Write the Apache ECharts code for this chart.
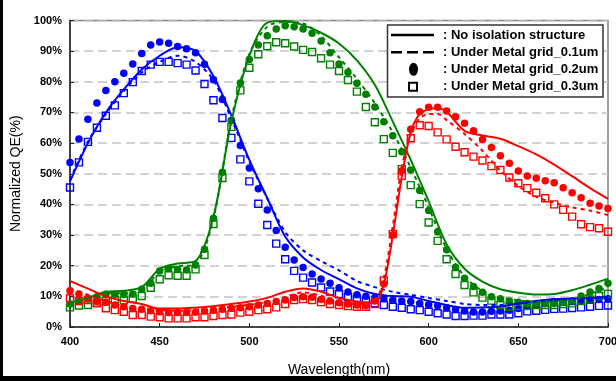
<!DOCTYPE html>
<html><head><meta charset="utf-8">
<script src="https://cdn.jsdelivr.net/npm/echarts/dist/echarts.min.js"></script>
<style>
html,body{margin:0;padding:0;background:#fff;overflow:hidden}
#c{position:absolute;left:0;top:0;width:616px;height:381px}
.f{position:absolute;background:#000;z-index:10;pointer-events:none}
</style></head>
<body>
<div id="c"></div>
<div class="f" style="left:0;top:0;width:3px;height:381px"></div>
<div class="f" style="left:0;top:376px;width:616px;height:5px"></div>
<script>
// wavelengths (nm)
const wl5 = [400,405,410,415,420,425,430,435,440,445,450,455,460,465,470,475,480,485,490,495,500,505,510,515,520,525,530,535,540,545,550,555,560,565,570,575,580,585,590,595,600,605,610,615,620,625,630,635,640,645,650,655,660,665,670,675,680,685,690,695,700];
const wl10 = [400,410,420,430,440,450,460,470,480,490,500,510,520,530,540,550,560,570,580,590,600,610,620,630,640,650,660,670,680,690,700];
const wlRed = [400,410,420,430,440,450,460,470,480,490,500,510,520,530,540,550,560,570,575,580,585,590,595,600,605,610,620,630,640,650,660,670,680,690,700];

// Blue
const blueSolid = [47.5,60,70,77.5,84,88.5,91.3,90,81.8,69,54.5,42,29.5,22.7,18.6,15.6,12.6,10.8,10.1,9.9,8.5,7.2,6.3,6.4,6.7,7.7,8.5,9.1,9.3,9.5,9.8];
const blueDash = [48,60.5,69.5,77,83,86.5,88.5,86.5,80.5,68,54,42,31,25,21.5,18.5,15,13,11.5,10.5,9.5,8.5,7.5,7.2,7.2,7.7,8.3,8.7,9,9.2,9.5];
const blueDot = [53.7,61.3,67.8,73.1,77.2,80.0,82.8,85.8,89.2,92.0,93.0,92.6,91.5,90.8,89.5,85.7,80.7,74.2,67.4,59.2,51.9,45.1,38.2,31.5,26.0,21.9,19.4,17.3,15.7,14.3,12.8,11.4,10.5,10.0,9.6,9.2,8.7,8.5,8.3,7.7,7.3,6.9,6.3,5.7,5.2,4.9,4.9,5.1,5.2,5.5,6.0,6.7,7.2,7.7,8.0,8.3,8.5,8.8,8.9,9.0,9.2];
const blueSq = [45.5,53.7,60.4,65.0,68.9,72.3,76.3,79.9,83.5,85.6,86.5,86.5,86.1,85.6,83.7,79.3,74.0,68.2,61.7,54.7,47.5,40.2,33.3,27.2,22.1,18.3,16.1,14.5,12.9,11.6,10.7,9.8,9.2,8.6,7.8,7.2,6.6,6.3,5.8,5.5,5.0,4.5,4.1,3.6,3.6,3.7,3.7,4.1,4.1,4.1,4.5,5.1,5.3,5.6,5.9,6.0,6.2,6.4,6.6,6.9,7.0];

// Green
const greenSolid = [8.0,9.5,11.5,11.8,13,19,20.7,21.5,36,67,88.5,99.3,99.8,98.5,96,92.5,87,79,67,54.5,41,27,19,14.8,12.3,11.2,10.6,10.8,12,13.8,15.8];
const greenDash = [7.5,9.5,11,11,12,18,19.8,20.5,35.5,68,89,98,99.5,99,95,88,81,73,63.5,52,39,25.5,16.5,11.8,9.7,8.7,8.2,8.2,8.8,10.8,13];
const greenDot = [7.5,8.3,9.1,9.9,10.7,10.7,10.6,10.7,12.3,14.3,18.3,19.1,18.8,18.6,20.2,25.4,35.5,50.5,67.4,79.6,87.3,92.0,95.0,97.2,98.3,98.0,97.2,95.8,93.3,89.5,85.8,83.1,79.5,75.9,71.8,67.0,62.4,57.2,51.2,44.5,38.0,31.1,25.2,19.5,15.9,13.2,11.3,9.9,9.2,8.5,8.1,7.7,7.7,7.7,7.7,8.1,8.5,10.1,11.4,12.6,14.3];
const greenSq = [6.4,7.0,7.2,7.7,8.5,8.8,8.7,9.2,10.1,12.8,15.6,16.9,16.7,16.7,18.8,23.5,33.6,48.6,65.3,77.2,84.6,89.0,91.6,92.9,92.6,91.5,90.4,89.7,87.7,85.6,83.5,80.6,76.8,71.8,66.8,61.3,56.8,51.5,46.3,40.1,34.1,28.1,22.1,17.3,13.7,11.3,9.6,8.6,7.2,6.6,6.9,6.9,7.2,7.2,7.2,7.5,7.7,8.5,9.0,10.1,10.8];

// Red
const redSolid = [15,12.5,10,8.5,7.5,6,6,6.3,6.8,7.5,8.3,9.5,11.5,12.6,11.5,9.5,8.3,8.0,14,30,49,63.5,69.5,71,71.4,70.2,64,62.5,61.4,59,56.3,53,49.2,45.3,41.8];
const redDash = [12.5,10.5,8.5,6.8,6.2,5.6,5.3,5.5,6,6.6,7.3,8.2,9.8,11.3,10.2,8.3,7.5,8.5,16,33,52,63,68,69.5,69.5,67.5,63,57.5,51,46,42.5,40.5,39,38,36.5];
const redDot = [11.8,10.8,9.4,8.3,8.1,7.2,6.6,6.0,5.8,5.3,5.0,4.7,4.7,4.7,4.8,5.2,5.5,5.8,6.1,6.3,6.6,7.2,7.7,8.3,8.8,9.6,9.9,9.7,9.0,8.5,7.9,7.5,7.2,7.0,8.5,14.0,30.0,51.0,64.5,70.2,71.7,71.7,70.5,68.6,66.5,64.0,61.2,58.6,55.9,53.4,50.9,49.3,48.5,47.7,47.1,45.4,43.8,42.2,40.4,39.5,38.7];
const redSq = [9.4,8.5,8.8,7.9,6.1,5.5,5.0,3.9,3.9,3.4,3.2,2.8,2.8,2.8,3.2,3.2,3.6,3.9,4.1,4.7,5.0,5.5,5.8,6.4,7.5,8.8,9.1,8.8,8.1,7.5,7.2,6.8,6.6,6.6,7.5,15.2,30.3,49.3,61.6,65.8,65.6,63.5,61.2,58.8,57.0,55.6,54.3,52.5,51.2,48.8,46.9,45.3,43.8,42.0,40.0,38.2,36.0,33.5,32.6,32.2,31.1];

const legendNames = [': No isolation structure', ': Under Metal grid_0.1um', ': Under Metal grid_0.2um', ': Under Metal grid_0.3um'];

const BLUE = '#0000ff', GREEN = '#008000', RED = '#ff0000';
const FONT = "'Liberation Sans', Arial, sans-serif";

function zip(xs, ys){ return xs.map((x,i)=>[x, ys[i]]); }
function lineS(xs, ys, color, dashed){
  return {type:'line', data: zip(xs, ys), showSymbol:false, smooth:0.3, silent:true,
    lineStyle:{color, width:2, type: dashed ? [4,4] : 'solid'}, z:3};
}
function dotS(ys, color){
  return {type:'scatter', data: zip(wl5, ys), symbol:'circle', symbolSize:7.5, silent:true,
    itemStyle:{color, opacity:1}, z:2};
}
function sqS(ys, color){
  return {type:'scatter', data: zip(wl5, ys), symbol:'rect', symbolSize:7, silent:true,
    itemStyle:{color:'rgba(255,255,255,0)', borderColor: color, borderWidth:1.4, opacity:1}, z:2};
}
function dummy(name){ return {type:'line', name, data:[], itemStyle:{color:'#000'}, lineStyle:{color:'#000'}}; }

const icons = [
  'path://M0,0H43V2.4H0Z',
  'path://M0,0H11V2.4H0Z M16,0H27V2.4H16Z M32,0H43V2.4H32Z',
  'path://M4.5,0A4.5,6.5,0,1,1,4.5,13A4.5,6.5,0,1,1,4.5,0Z',
  'path://M0,0H10V10H0Z M2,2V8H8V2Z'
];
const rowCenters = [35, 52.3, 69.3, 86.7];
// [left, itemWidth, itemHeight, textPad]
const geo = [[391,43,2.4,4],[391,43,2.4,4],[409,9,13,20],[408,10,10,20]];
const legends = legendNames.map((n,i)=>({
  show:true, selectedMode:false, orient:'vertical', left:geo[i][0], top: rowCenters[i]-6.5, padding:0,
  itemWidth:geo[i][1], itemHeight:geo[i][2],
  data:[{name:n, icon:icons[i]}],
  textStyle:{fontFamily:FONT, fontWeight:'bold', fontSize:13, color:'#000', padding:[0,0,0,geo[i][3]]}
}));

const chart = echarts.init(document.getElementById('c'), null, {renderer:'canvas'});
chart.setOption({
  animation:false,
  backgroundColor:'#fff',
  grid:{left:70, right:8, top:20.5, bottom:54, show:true, borderColor:'#808080', borderWidth:1.5, outerBoundsMode:'none'},
  legend: legends,
  graphic:[{type:'rect', z:3, shape:{x:387.5, y:25, width:215.5, height:72},
    style:{fill:'#fff', stroke:'#333', lineWidth:1.5}}],
  xAxis:{type:'value', min:400, max:700, interval:50,
    name:'Wavelength(nm)', nameLocation:'middle', nameGap:36,
    nameTextStyle:{fontFamily:FONT, fontSize:14, color:'#000'},
    axisLine:{lineStyle:{color:'#222', width:1.5}},
    axisTick:{inside:true, length:4, lineStyle:{color:'#222'}},
    axisLabel:{fontFamily:FONT, fontWeight:'bold', fontSize:11, color:'#000', margin:9},
    splitLine:{show:false}},
  yAxis:{type:'value', min:0, max:100, interval:10,
    name:'Normalized QE(%)', nameLocation:'middle', nameGap:42,
    nameTextStyle:{fontFamily:FONT, fontSize:14, color:'#000'},
    axisLine:{show:true, lineStyle:{color:'#222', width:1.5}},
    axisTick:{show:true, inside:true, length:4, lineStyle:{color:'#222'}},
    axisLabel:{fontFamily:FONT, fontWeight:'bold', fontSize:11, color:'#000', margin:8, formatter:'{value}%'},
    splitLine:{show:true, lineStyle:{color:'#c4c4c4', width:1.5, type:[9,5]}}},
  series:[
    sqS(blueSq, BLUE), dotS(blueDot, BLUE), lineS(wl10, blueSolid, BLUE, false), lineS(wl10, blueDash, BLUE, true),
    sqS(greenSq, GREEN), dotS(greenDot, GREEN), lineS(wl10, greenSolid, GREEN, false), lineS(wl10, greenDash, GREEN, true),
    sqS(redSq, RED), dotS(redDot, RED), lineS(wlRed, redSolid, RED, false), lineS(wlRed, redDash, RED, true),
    dummy(legendNames[0]), dummy(legendNames[1]), dummy(legendNames[2]), dummy(legendNames[3])
  ]
});
</script>
</body></html>
